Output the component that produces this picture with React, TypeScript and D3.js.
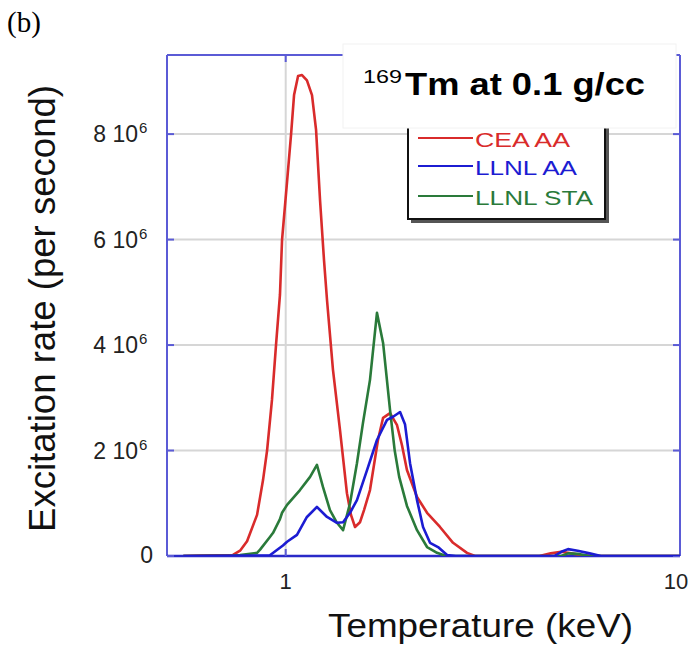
import React from "react";
import * as d3 from "d3";

const panelLabel = "(b)";
const titleIsotope = "169";
const titleText = "Tm at 0.1 g/cc";
const xLabel = "Temperature (keV)";
const yLabel = "Excitation rate (per second)";
const xTicks = [1, 10];
const yTicks = [0, 2, 4, 6, 8]; // in units of 10^6
const yExponent = "6";
const seriesNames = ["CEA AA", "LLNL AA", "LLNL STA"];
const seriesColors = ["#d92b2b", "#1c1cd2", "#2a7a3a"];

// [temperature keV, excitation rate in 10^6 per second]
const ceaAA: [number, number][] = [
  [0.55, 0], [0.61, 0.01], [0.735, 0.02], [0.766, 0.1], [0.798, 0.28], [0.846, 0.78],
  [0.876, 1.44], [0.897, 2.0], [0.923, 2.96], [0.945, 4.0], [0.967, 4.95], [0.979, 6.0],
  [1.008, 7.1], [1.032, 8.0], [1.05, 8.74], [1.075, 9.1], [1.1, 9.12], [1.132, 9.02],
  [1.166, 8.74], [1.194, 8.08], [1.222, 6.75], [1.251, 5.6], [1.273, 4.85], [1.318, 3.53],
  [1.373, 2.39], [1.43, 1.19], [1.464, 0.78], [1.499, 0.55], [1.543, 0.64], [1.58, 0.87],
  [1.636, 1.25], [1.714, 2.2], [1.766, 2.62], [1.839, 2.71], [1.916, 2.48], [1.972, 2.1],
  [2.03, 1.63], [2.153, 1.12], [2.283, 0.82], [2.462, 0.55], [2.657, 0.25], [2.883, 0.06],
  [3.02, 0], [4.4, 0], [4.7, 0.05], [5.0, 0.08], [5.3, 0.05], [5.6, 0.02], [6.0, 0], [10, 0],
];

const llnlAA: [number, number][] = [
  [0.55, 0], [0.91, 0.01], [0.984, 0.2], [1.008, 0.27], [1.068, 0.4], [1.132, 0.74],
  [1.2, 0.93], [1.273, 0.74], [1.349, 0.63], [1.398, 0.64], [1.456, 0.82], [1.516, 1.06],
  [1.608, 1.63], [1.704, 2.2], [1.807, 2.58], [1.872, 2.64], [1.95, 2.73], [2.007, 2.5],
  [2.067, 1.76], [2.153, 1.06], [2.23, 0.55], [2.323, 0.25], [2.434, 0.17], [2.566, 0.02],
  [2.7, 0], [4.8, 0], [5.0, 0.08], [5.2, 0.13], [5.5, 0.1], [5.9, 0.05], [6.3, 0], [10, 0],
];

const llnlSTA: [number, number][] = [
  [0.55, 0], [0.735, 0.01], [0.766, 0.02], [0.846, 0.06], [0.861, 0.12], [0.912, 0.36],
  [0.929, 0.44], [0.967, 0.7], [0.979, 0.82], [1.008, 0.97], [1.087, 1.25], [1.153, 1.5],
  [1.2, 1.73], [1.243, 1.31], [1.295, 0.87], [1.349, 0.63], [1.398, 0.49], [1.456, 1.0],
  [1.516, 1.76], [1.57, 2.52], [1.636, 3.34], [1.704, 4.61], [1.766, 4.04], [1.839, 2.77],
  [1.89, 2.0], [1.94, 1.5], [2.03, 0.95], [2.153, 0.49], [2.283, 0.17], [2.42, 0.06],
  [2.55, 0], [5.0, 0], [5.2, 0.05], [5.5, 0.04], [5.9, 0], [10, 0],
];

const seriesData = [ceaAA, llnlSTA, llnlAA];
const seriesDrawColors = [seriesColors[0], seriesColors[2], seriesColors[1]];

const W = 696;
const H = 648;
const L = 167, R = 680, T = 55, B = 556;
const FONT = "'Liberation Sans', Arial, Helvetica, sans-serif";
const FRAME = "#5b5bd6";
const GRID = "#d6d6d6";

export default function App() {
  const x = d3.scaleLog().domain([0.5, 10]).range([L, R]);
  const y = d3.scaleLinear().domain([0, 9.5]).range([B, T]);
  const line = d3
    .line<[number, number]>()
    .x((d) => x(d[0]))
    .y((d) => y(d[1]))
    .curve(d3.curveLinear);

  const legendLineY = [138, 166, 196];
  const legendTextY = [147, 175, 205];
  const legendLens = [95, 102, 118];

  return (
    <svg
      width={W}
      height={H}
      viewBox={`0 0 ${W} ${H}`}
      style={{ position: "absolute", left: 0, top: 0, background: "#fff" }}
    >
      <defs>
        <clipPath id="plotclip">
          <rect x={L} y={T} width={R - L} height={B - T} />
        </clipPath>
      </defs>
      <rect x={0} y={0} width={W} height={H} fill="#fff" />

      {/* gridlines */}
      {yTicks.filter((t) => t > 0).map((t) => (
        <line key={"gy" + t} x1={L} x2={R} y1={y(t)} y2={y(t)} stroke={GRID} strokeWidth={2} />
      ))}
      {xTicks.filter((t) => t < 10).map((t) => (
        <line key={"gx" + t} x1={x(t)} x2={x(t)} y1={T} y2={B} stroke={GRID} strokeWidth={2} />
      ))}

      {/* frame */}
      <line x1={L} x2={R} y1={T} y2={T} stroke={FRAME} strokeWidth={2} />
      <line x1={L} x2={L} y1={T} y2={B} stroke={FRAME} strokeWidth={2} />
      <line x1={R} x2={R} y1={T} y2={B} stroke={FRAME} strokeWidth={2} />
      <line x1={L} x2={R} y1={B} y2={B} stroke="#2a2ac8" strokeWidth={2.5} />

      {/* ticks */}
      {yTicks.map((t) => (
        <g key={"ty" + t}>
          <line x1={L} x2={L + 7} y1={y(t)} y2={y(t)} stroke={FRAME} strokeWidth={2} />
          <line x1={R - 7} x2={R} y1={y(t)} y2={y(t)} stroke={FRAME} strokeWidth={2} />
        </g>
      ))}
      {xTicks.map((t) => (
        <g key={"tx" + t}>
          <line x1={x(t)} x2={x(t)} y1={T} y2={T + 7} stroke={FRAME} strokeWidth={2} />
          <line x1={x(t)} x2={x(t)} y1={B - 7} y2={B} stroke={FRAME} strokeWidth={2} />
        </g>
      ))}

      {/* curves */}
      <g clipPath="url(#plotclip)">
        {seriesData.map((d, i) => (
          <path
            key={"s" + i}
            d={line(d) || ""}
            fill="none"
            stroke={seriesDrawColors[i]}
            strokeWidth={2.6}
            strokeLinejoin="round"
          />
        ))}
      </g>

      {/* y tick labels */}
      {yTicks.map((t) =>
        t === 0 ? (
          <text key={"ly" + t} x={153} y={y(t) + 7} fontFamily={FONT} fontSize={23} textAnchor="end" fill="#222">
            0
          </text>
        ) : (
          <g key={"ly" + t}>
            <text x={138} y={y(t) + 8} fontFamily={FONT} fontSize={23} textAnchor="end" fill="#222">
              {`${t} 10`}
            </text>
            <text x={139} y={y(t) - 1} fontFamily={FONT} fontSize={15} fill="#222">
              {yExponent}
            </text>
          </g>
        )
      )}

      {/* x tick labels */}
      {xTicks.map((t) => (
        <text key={"lx" + t} x={x(t) - (t === 10 ? 4 : 0)} y={589} fontFamily={FONT} fontSize={22} textAnchor="middle" fill="#222">
          {t}
        </text>
      ))}

      {/* legend */}
      <rect x={411} y={120} width={198} height={103} fill="#555" />
      <rect x={408} y={118} width={197} height={101} fill="#fff" stroke="#111" strokeWidth={2} />
      {seriesNames.map((n, i) => (
        <g key={"lg" + i}>
          <line x1={418} x2={473} y1={legendLineY[i]} y2={legendLineY[i]} stroke={seriesColors[i]} strokeWidth={2} />
          <text
            x={475}
            y={legendTextY[i]}
            fontFamily={FONT}
            fontSize={21}
            fill={seriesColors[i]}
            textLength={legendLens[i]}
            lengthAdjust="spacingAndGlyphs"
          >
            {n}
          </text>
        </g>
      ))}

      {/* title box */}
      <rect x={343} y={44} width={333} height={84} fill="#fff" stroke="#f2f2f2" strokeWidth={1} />
      <text
        x={363}
        y={83}
        fontFamily={FONT}
        fontSize={18}
        fill="#000"
        textLength={39}
        lengthAdjust="spacingAndGlyphs"
      >
        {titleIsotope}
      </text>
      <text
        x={405}
        y={95}
        fontFamily={FONT}
        fontSize={32}
        fontWeight="bold"
        fill="#000"
        textLength={240}
        lengthAdjust="spacingAndGlyphs"
      >
        {titleText}
      </text>

      {/* axis labels */}
      <text
        x={328}
        y={637}
        fontFamily={FONT}
        fontSize={34}
        fill="#111"
        textLength={305}
        lengthAdjust="spacingAndGlyphs"
      >
        {xLabel}
      </text>
      <text
        transform={`translate(55, ${532}) rotate(-90)`}
        x={0}
        y={0}
        fontFamily={FONT}
        fontSize={36}
        fill="#111"
        textLength={447}
        lengthAdjust="spacingAndGlyphs"
      >
        {yLabel}
      </text>

      {/* panel label */}
      <text x={7} y={32} fontFamily="'Liberation Serif', 'Times New Roman', serif" fontSize={29} fill="#000">
        {panelLabel}
      </text>
    </svg>
  );
}
